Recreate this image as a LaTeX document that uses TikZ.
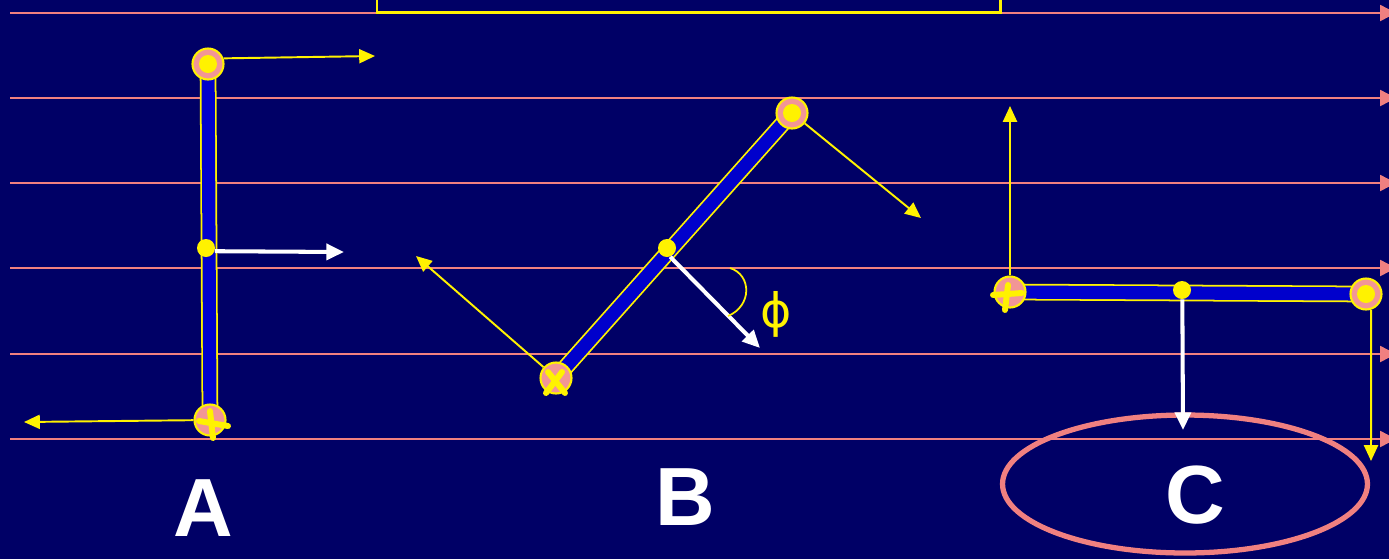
\documentclass[tikz,border=0pt]{standalone}
\usepackage{fontspec}
\setsansfont{Liberation Sans}
\newfontfamily\greekfont{DejaVu Sans}
\usetikzlibrary{positioning,arrows.meta,shapes.geometric}
\definecolor{NightBg}{RGB}{0,0,102}
\definecolor{LinePink}{RGB}{240,128,128}
\definecolor{PivotPink}{RGB}{242,150,150}
\definecolor{RodBlue}{RGB}{0,0,204}
\pgfdeclarelayer{back}
\pgfdeclarelayer{rods}
\pgfsetlayers{back,rods,main}

\begin{document}
\begin{tikzpicture}[
x=0.02cm,y=-0.02cm,
pivot/.style={circle,fill=PivotPink,draw=yellow,line width=1.2pt,minimum size=6.2mm,inner sep=0pt},
hub/.style={pivot,path picture={\fill[yellow] (path picture bounding box.center) circle (1.8mm);}},
middot/.style={circle,fill=yellow,minimum size=3.6mm,inner sep=0pt},
rod/.style={draw=yellow,line width=1pt,double=RodBlue,double distance=7.5pt},
force/.style={-{Triangle[length=9pt,width=8pt]},draw=yellow,line width=1.1pt},
push/.style={-{Triangle[length=10pt,width=9pt]},draw=white,line width=2.3pt},
level/.style={-{Triangle[length=9pt,width=9pt]},draw=LinePink,line width=1.4pt},
crossbar/.style={draw=yellow,line width=3.4pt,line cap=round},
caption/.style={text=white,font=\sffamily\bfseries\fontsize{47}{50}\selectfont}
]
\useasboundingbox (0,0) rectangle (1389,559);
\begin{pgfonlayer}{back}
\fill[NightBg] (0,0) rectangle (1389,559);
\foreach \y in {13,98,183,268,354,439}
  \draw[level] (10,\y) -- (1396,\y);
\draw[yellow,line width=1.7pt] (377,-10) rectangle (1000,12);
\end{pgfonlayer}

% rod A
\node[hub] (At) at (208,64) {};
\node[pivot] (Ab) at (210,420) {};
\node[middot] (Am) at (206,248) {};
% rod B
\node[pivot] (Bb) at (556,378) {};
\node[hub] (Bt) at (792,113) {};
\node[middot] (Bm) at (667,248) {};
% rod C
\node[pivot] (Cl) at (1010,292) {};
\node[hub] (Cr) at (1366,294) {};
\node[middot] (Cm) at (1182,290) {};

\begin{pgfonlayer}{rods}
\draw[rod] (At.center) -- (Ab.center);
\draw[rod] (Bb.center) -- (Bt.center);
\draw[rod] (Cl.center) -- (Cr.center);
\end{pgfonlayer}

% free ends
\coordinate (AtF) at (375,56);
\coordinate (AbF) at (24,422);
\coordinate (AmF) at (344,252);
\coordinate (BtF) at (921,218);
\coordinate (BbF) at (416,256);
\coordinate (BmF) at (760,348);
\coordinate (ClF) at (1010,106);
\coordinate (CrF) at (1371,461);
\coordinate (CmF) at (1183,430);

\node[ellipse,draw=LinePink,line width=3pt,minimum width=7.3cm,minimum height=2.76cm,inner sep=0pt] (focus) at (1185,484) {};

\draw[force] (At.20) -- (AtF);
\draw[force] (Ab) -- (AbF);
\draw[force] (Bt) -- (BtF);
\draw[force] (Bb) -- (BbF);
\draw[force] (Cl) -- (ClF);
\draw[force] (Cr.-72) -- (CrF);
\draw[push] (Am.-20) -- (AmF);
\draw[push] (Bm.-70) -- (BmF);
\draw[push] (Cm.-88) -- (CmF);

% markers on the lower pins
\draw[crossbar] ([shift={(-11,1)}]Ab.center) -- ([shift={(18,6)}]Ab.center);
\draw[crossbar] ([shift={(0,-9)}]Ab.center) -- ([shift={(3,18)}]Ab.center);
\draw[crossbar] ([shift={(-8,-6)}]Bb.center) -- ([shift={(9,15)}]Bb.center);
\draw[crossbar] ([shift={(6,-6)}]Bb.center) -- ([shift={(-10,15)}]Bb.center);
\draw[crossbar] ([shift={(-17,3)}]Cl.center) -- ([shift={(12,1)}]Cl.center);
\draw[crossbar] ([shift={(-2,-7)}]Cl.center) -- ([shift={(-5,18)}]Cl.center);

% angle
\draw[yellow,line width=1pt] (730,268) .. controls (752,275) and (752,306) .. (728,316);
\node[text=yellow,font=\greekfont\fontsize{27}{28}\selectfont,inner sep=0pt] (phi) at (776,314) {ϕ};

\node[caption] (labA) at (203,508) {A};
\node[caption] (labB) at (685,497) {B};
\node[caption] (labC) at (1195,495) {C};
\end{tikzpicture}
\end{document}
